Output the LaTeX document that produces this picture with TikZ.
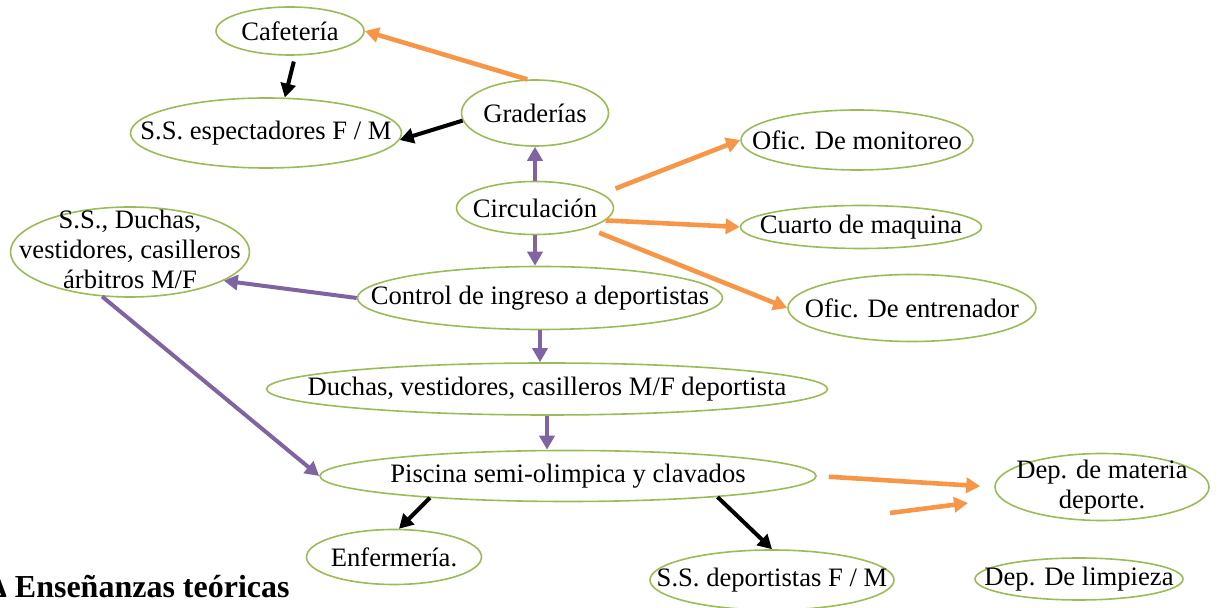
\documentclass[tikz,border=0pt]{standalone}
\usepackage{fontspec}
\setmainfont{Liberation Serif}
\usepackage{xcolor}
\usepackage{tikz}
\usetikzlibrary{shapes.geometric}
\usetikzlibrary{arrows.meta}

\definecolor{verdeoval}{HTML}{9BBB59}
\definecolor{naranja}{HTML}{F79646}
\definecolor{morado}{HTML}{8064A2}

% texto de ancho cero: el ovalo toma su tamano de minimum width/height
\newcommand{\txt}[1]{\makebox[0pt]{#1}}
\newcommand{\lineas}[1]{\makebox[0pt]{\smash{\lower4pt\hbox{\begin{tabular}{@{}c@{}}#1\end{tabular}}}}}

\begin{document}
\begin{tikzpicture}[
  x=0.5pt, y=-0.5pt,
  zona/.style={draw=verdeoval, line width=0.8pt, ellipse, inner sep=0pt,
    font=\fontsize{13.3}{15}\selectfont},
  fnar/.style={draw=naranja, line width=2.3pt, -{Triangle[length=7pt,width=7.5pt]}},
  fmor/.style={draw=morado, line width=2pt, -{Triangle[length=7pt,width=7.5pt]}},
  fneg/.style={draw=black, line width=2pt, -{Triangle[length=7pt,width=7.5pt]}}
]
\useasboundingbox (0,0) rectangle (1222,608);

\node[zona, minimum width=74pt, minimum height=24pt] (caf) at (290,31) {\txt{Cafetería}};
\node[zona, minimum width=135.5pt, minimum height=35pt] (esp) at (266,133) {\txt{S.S. espectadores F / M}};
\node[zona, minimum width=73.5pt, minimum height=33pt] (grad) at (535,113) {\txt{Graderías}};
\node[zona, minimum width=78.5pt, minimum height=26.5pt] (circ) at (535,208) {\txt{Circulación}};
\node[zona, minimum width=119.5pt, minimum height=45pt] (arb) at (130,252)
  {\lineas{S.S., Duchas,\\ vestidores, casilleros\\ árbitros M/F}};
\node[zona, minimum width=182.5pt, minimum height=31.5pt] (ctrl) at (540,298) {\txt{Control de ingreso a deportistas}};
\node[zona, minimum width=116pt, minimum height=30pt] (mon) at (857,140) {\txt{Ofic. De monitoreo}};
\node[zona, minimum width=120.5pt, minimum height=21.5pt] (cuarto) at (861,227) {\txt{Cuarto de maquina}};
\node[zona, minimum width=124pt, minimum height=33.5pt] (ent) at (912,308) {\txt{Ofic. De entrenador}};
\node[zona, minimum width=280.5pt, minimum height=26pt] (duch) at (547,389) {\txt{Duchas, vestidores, casilleros M/F deportista}};
\node[zona, minimum width=248pt, minimum height=25.5pt] (pisc) at (568,476) {\txt{Piscina semi-olimpica y clavados}};
\node[zona, minimum width=87.5pt, minimum height=27.5pt] (enf) at (394,557) {\txt{Enfermería.}};
\node[zona, minimum width=122pt, minimum height=30pt] (ssd) at (772,580) {\txt{S.S. deportistas F / M}};
\node[zona, minimum width=107pt, minimum height=33.5pt] (mat) at (1102,487) {\lineas{Dep. de materia\\ deporte.}};
\node[zona, minimum width=104pt, minimum height=21pt] (limp) at (1079,579) {\txt{Dep. De limpieza}};

\node[anchor=base east, inner sep=0pt, font=\fontsize{16}{18}\selectfont\bfseries] (ens) at (290,598)
  {Δ Enseñanzas teóricas};

% flechas
\draw[fnar] (grad.103) -- (caf.east);
\draw[fneg, shorten <=3pt] (caf.-78) -- (esp.62);
\draw[fneg] (grad.186) -- (esp.-3);
\draw[fmor] (circ.north) -- (grad.south);
\draw[fnar, shorten <=7pt] (circ.12) -- (mon.west);
\draw[fnar] (circ.-10) -- (cuarto.west);
\draw[fnar, shorten <=6pt] (circ.-21) -- (ent.west);
\draw[fmor] (circ.south) -- (circ.south |- ctrl.north);
\draw[fmor] (ctrl.west) -- (arb.-17);
\draw[fmor] (ctrl.south) -- (ctrl.south |- duch.north);
\draw[fmor] (arb.-122) -- (pisc.west);
\draw[fmor] (duch.south) -- (duch.south |- pisc.north);
\draw[fneg] (pisc.-171) -- (enf.80);
\draw[fneg] (pisc.-8) -- (ssd.north);
\draw[fnar, shorten <=6pt, shorten >=7pt] (pisc.east) -- (mat.west);
\coordinate (f1) at (890,513);
\coordinate (f2) at (968,503);
\draw[fnar] (f1) -- (f2);
\end{tikzpicture}
\end{document}
